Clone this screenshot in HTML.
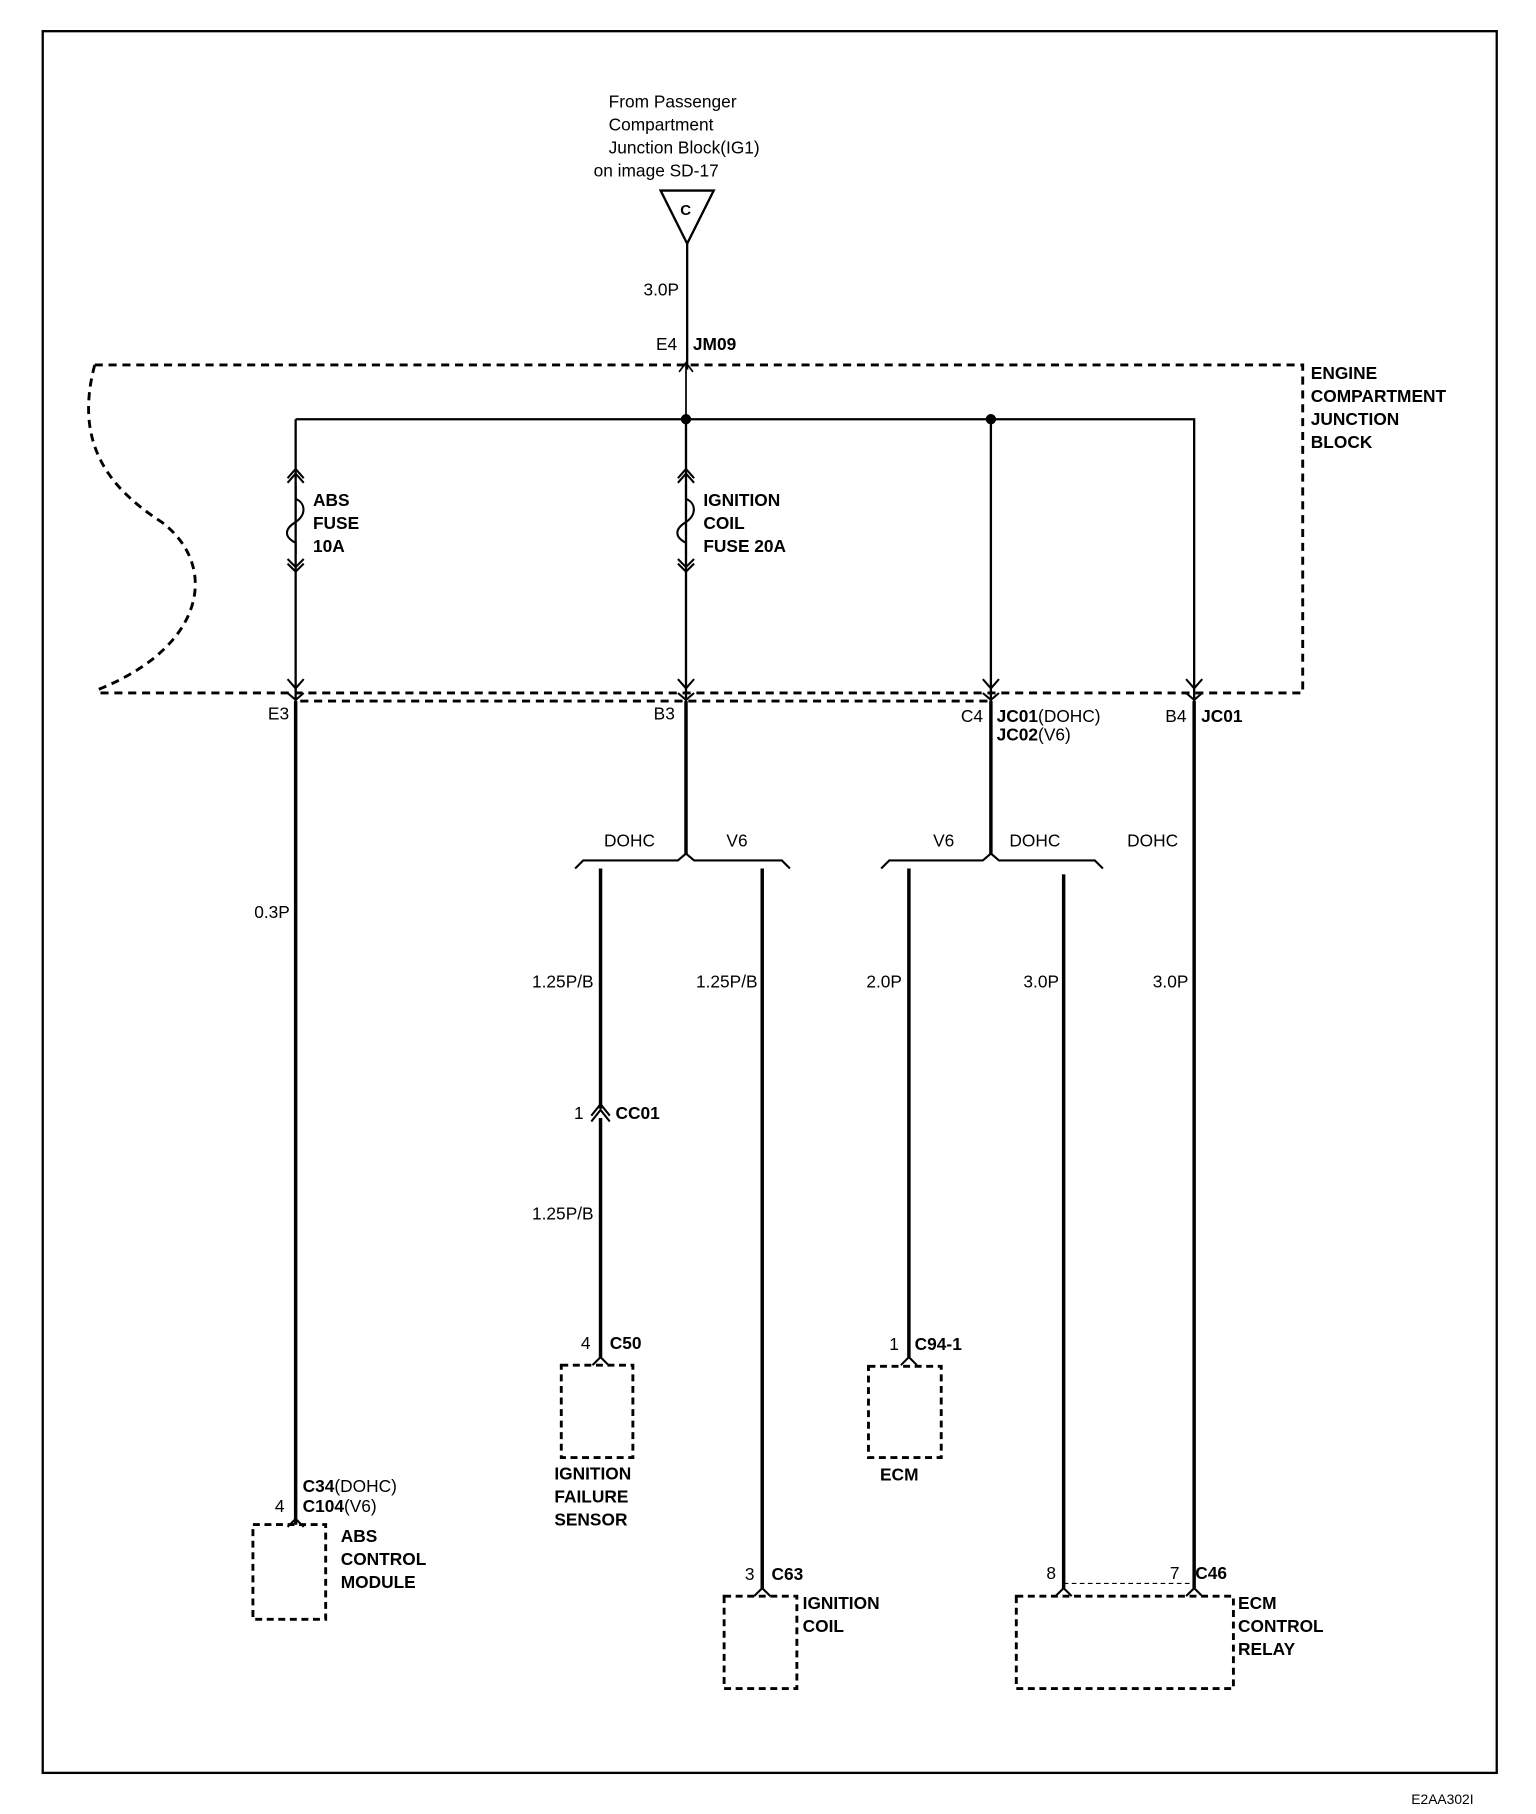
<!DOCTYPE html>
<html><head><meta charset="utf-8"><style>
html,body{margin:0;padding:0;background:#fff;}
svg{display:block}
text{font-family:"Liberation Sans",sans-serif;font-size:15px;fill:#000}
.b{font-weight:bold}
</style></head><body>
<svg width="1536" height="1814" viewBox="0 0 1330 1570.6" preserveAspectRatio="none" xmlns="http://www.w3.org/2000/svg">
<g fill="none" stroke="#000">
<rect x="37" y="27" width="1259" height="1508" stroke-width="2"/>
<!-- junction block dashed -->
<g stroke-width="2.5" stroke-dasharray="7,5">
<path d="M82,316 H1128 V600 H82"/>
<path d="M82,316 C65,380 90,420 140,452 C190,490 178,560 85,597"/>
<path d="M260,607 H857"/>
</g>
<!-- feed -->
<path d="M572,165 H618 L595,211 Z" stroke-width="2"/>
<path d="M595,211 V320" stroke-width="2"/>
<path d="M588,322 L594,314 L600,322 M594,314 V363" stroke-width="1.5"/>
<!-- bus -->
<path d="M256,363 H1034 V1375" stroke-width="2"/>
<path d="M256,363 V1320" stroke-width="2"/>
<path d="M594,363 V740" stroke-width="2"/>
<path d="M858,363 V740" stroke-width="2"/>
<circle cx="594" cy="363" r="4.5" fill="#000" stroke="none"/>
<circle cx="858" cy="363" r="4.5" fill="#000" stroke="none"/>
<!-- fuses -->
<g stroke-width="1.8">
<path d="M249,414 L256,406 L263,414 M249,418 L256,410 L263,418"/>
<path d="M256,420 V432 C264,435 266,445 256,452 C246,458 246,465 256,470 V480"/>
<path d="M249,484 L256,491 L263,484 M249,488 L256,495 L263,488"/>
<path d="M587,414 L594,406 L601,414 M587,418 L594,410 L601,418"/>
<path d="M594,420 V432 C602,435 604,445 594,452 C584,458 584,465 594,470 V480"/>
<path d="M587,484 L594,491 L601,484 M587,488 L594,495 L601,488"/>
<!-- connectors at bottom of box -->
<path d="M249,588 L256,596 L263,588 M249,600 L256,606 L263,600"/>
<path d="M587,588 L594,596 L601,588 M587,600 L594,606 L601,600"/>
<path d="M851,588 L858,596 L865,588 M851,600 L858,606 L865,600"/>
<path d="M1027,588 L1034,596 L1041,588 M1027,600 L1034,606 L1041,600"/>
</g>
<!-- thick lower wires -->
<g stroke-width="3">
<path d="M256,607 V1320"/>
<path d="M594,607 V740"/>
<path d="M858,607 V740"/>
<path d="M1034,607 V1375"/>
<path d="M520,752 V960 M520,968 V1175"/>
<path d="M660,752 V1375"/>
<path d="M787,752 V1175"/>
<path d="M921,757 V1375"/>
</g>
<!-- braces -->
<g stroke-width="1.8">
<path d="M498,752 L505,745 H587 L594,739 L601,745 H677 L684,752"/>
<path d="M763,752 L770,745 H851 L858,739 L865,745 H948 L955,752"/>
</g>
<!-- CC01 connector -->
<path d="M512,966 L520,956 L528,966 M512,971 L520,961 L528,971" stroke-width="1.8"/>
<!-- component connectors -->
<g stroke-width="1.8">
<path d="M513,1182 L520,1175 L527,1182"/>
<path d="M780,1182 L787,1175 L794,1182"/>
<path d="M249,1322 L256,1315 L263,1322"/>
<path d="M653,1382 L660,1375 L667,1382"/>
<path d="M914,1382 L921,1375 L928,1382"/>
<path d="M1027,1382 L1034,1375 L1041,1382"/>
</g>
<path d="M921,1371 H1034" stroke-width="1" stroke-dasharray="4,3"/>
<g stroke-width="2.5" stroke-dasharray="6,4">
<rect x="486" y="1182" width="62" height="80"/>
<rect x="752" y="1183" width="63" height="79"/>
<rect x="219" y="1320" width="63" height="82"/>
<rect x="627" y="1382" width="63" height="80"/>
<rect x="880" y="1382" width="188" height="80"/>
</g>
</g>
<text x="527" y="93">From Passenger</text>
<text x="527" y="113">Compartment</text>
<text x="527" y="133">Junction Block(IG1)</text>
<text x="514" y="153">on image SD-17</text>
<text x="589" y="186" class="b" style="font-size:13px">C</text>
<text x="588" y="256" text-anchor="end">3.0P</text>
<text x="568" y="303">E4</text>
<text x="600" y="303" class="b">JM09</text>
<g class="b">
<text x="1135" y="328" class="b">ENGINE</text>
<text x="1135" y="348" class="b">COMPARTMENT</text>
<text x="1135" y="368" class="b">JUNCTION</text>
<text x="1135" y="388" class="b">BLOCK</text>
<text x="271" y="438" class="b">ABS</text>
<text x="271" y="458" class="b">FUSE</text>
<text x="271" y="478" class="b">10A</text>
<text x="609" y="438" class="b">IGNITION</text>
<text x="609" y="458" class="b">COIL</text>
<text x="609" y="478" class="b">FUSE 20A</text>
</g>
<text x="232" y="623">E3</text>
<text x="566" y="623">B3</text>
<text x="832" y="625">C4</text>
<text x="863" y="625"><tspan class="b">JC01</tspan>(DOHC)</text>
<text x="863" y="641"><tspan class="b">JC02</tspan>(V6)</text>
<text x="1009" y="625">B4</text>
<text x="1040" y="625" class="b">JC01</text>
<text x="523" y="733">DOHC</text>
<text x="629" y="733">V6</text>
<text x="808" y="733">V6</text>
<text x="874" y="733">DOHC</text>
<text x="976" y="733">DOHC</text>
<text x="251" y="795" text-anchor="end">0.3P</text>
<text x="514" y="855" text-anchor="end">1.25P/B</text>
<text x="656" y="855" text-anchor="end">1.25P/B</text>
<text x="781" y="855" text-anchor="end">2.0P</text>
<text x="917" y="855" text-anchor="end">3.0P</text>
<text x="1029" y="855" text-anchor="end">3.0P</text>
<text x="497" y="969">1</text>
<text x="533" y="969" class="b">CC01</text>
<text x="514" y="1056" text-anchor="end">1.25P/B</text>
<text x="503" y="1168">4</text>
<text x="528" y="1168" class="b">C50</text>
<text x="480" y="1281" class="b">IGNITION</text>
<text x="480" y="1301" class="b">FAILURE</text>
<text x="480" y="1321" class="b">SENSOR</text>
<text x="770" y="1169">1</text>
<text x="792" y="1169" class="b">C94-1</text>
<text x="762" y="1282" class="b">ECM</text>
<text x="262" y="1292"><tspan class="b">C34</tspan>(DOHC)</text>
<text x="238" y="1309">4</text>
<text x="262" y="1309"><tspan class="b">C104</tspan>(V6)</text>
<text x="295" y="1335" class="b">ABS</text>
<text x="295" y="1355" class="b">CONTROL</text>
<text x="295" y="1375" class="b">MODULE</text>
<text x="645" y="1368">3</text>
<text x="668" y="1368" class="b">C63</text>
<text x="695" y="1393" class="b">IGNITION</text>
<text x="695" y="1413" class="b">COIL</text>
<text x="906" y="1367">8</text>
<text x="1013" y="1367">7</text>
<text x="1035" y="1367" class="b">C46</text>
<text x="1072" y="1393" class="b">ECM</text>
<text x="1072" y="1413" class="b">CONTROL</text>
<text x="1072" y="1433" class="b">RELAY</text>
<text x="1222" y="1562" style="font-size:12px">E2AA302I</text>
</svg>
</body></html>
